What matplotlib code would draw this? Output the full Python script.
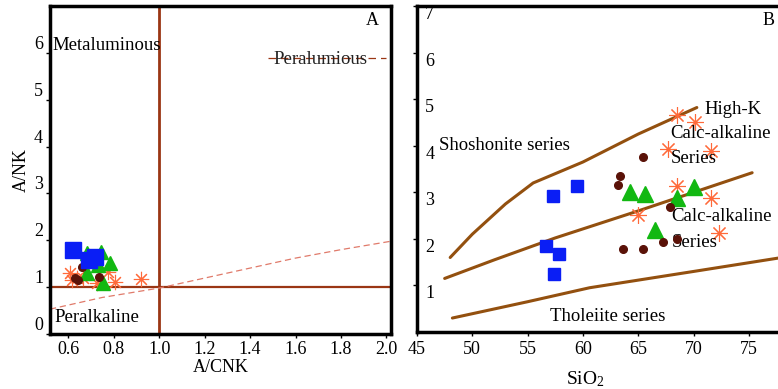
import matplotlib
matplotlib.use("Agg")
import matplotlib.pyplot as plt

plt.rcParams['font.family'] = ['Liberation Serif', 'DejaVu Serif']
plt.rcParams['mathtext.fontset'] = 'custom'
plt.rcParams['mathtext.rm'] = 'Liberation Serif'

# ---------------- Panel A data (A/CNK vs A/NK) ----------------
a_blue_x = [0.62, 0.69, 0.72]
a_blue_y = [1.79, 1.57, 1.64]
a_green_x = [0.683, 0.745, 0.784, 0.683, 0.753, 0.73]
a_green_y = [1.72, 1.74, 1.51, 1.30, 1.09, 1.47]
a_brown_x = [0.66, 0.736, 0.63, 0.643]
a_brown_y = [1.43, 1.21, 1.19, 1.15]
a_orange_x = [0.608, 0.617, 0.64, 0.776, 0.806, 0.92, 0.727, 0.665]
a_orange_y = [1.30, 1.15, 1.19, 1.32, 1.10, 1.17, 1.09, 1.19]
a_curve_x = [0.52, 0.75, 1.0, 1.3, 1.6, 1.8, 2.02]
a_curve_y = [0.53, 0.78, 0.98, 1.30, 1.62, 1.80, 1.98]
a_xticks = [0.6, 0.8, 1.0, 1.2, 1.4, 1.6, 1.8, 2.0]
a_yticks = [0, 1, 2, 3, 4, 5, 6]

# ---------------- Panel B data (SiO2 vs K2O) ----------------
b_blue_x = [57.3, 59.5, 56.7, 57.8, 57.4]
b_blue_y = [2.92, 3.13, 1.84, 1.67, 1.25]
b_brown_x = [65.4, 63.35, 63.2, 67.9, 63.6, 65.4, 67.2, 68.5]
b_brown_y = [3.76, 3.35, 3.15, 2.69, 1.78, 1.78, 1.94, 2.00]
b_green_x = [64.3, 65.6, 68.5, 70.0, 66.5]
b_green_y = [3.00, 2.97, 2.88, 3.12, 2.19]
b_orange_x = [68.5, 70.1, 67.7, 71.6, 68.5, 71.6, 65.0, 72.3]
b_orange_y = [4.67, 4.50, 3.94, 3.88, 3.13, 2.88, 2.52, 2.13]
b_high_x = [48.0, 50.0, 53.0, 55.5, 60.0, 65.0, 70.3]
b_high_y = [1.60, 2.10, 2.75, 3.20, 3.65, 4.25, 4.82]
b_mid_x = [47.5, 52.0, 57.5, 65.0, 75.3]
b_mid_y = [1.15, 1.55, 2.02, 2.60, 3.42]
b_low_x = [48.2, 55.0, 60.6, 70.0, 78.0]
b_low_y = [0.30, 0.65, 0.95, 1.30, 1.60]
b_xticks = [45, 50, 55, 60, 65, 70, 75]
b_yticks = [1, 2, 3, 4, 5, 6, 7]

BLUE = '#0a1ef5'
GREEN = '#12b812'
BROWN = '#5a1208'
ORANGE = '#ff6a3a'
LINE_A = '#9a3614'
LINE_B = '#93500f'
FS = 13.5

fig = plt.figure(figsize=(7.78, 3.89), dpi=100)

# ---------------- Panel A ----------------
axA = fig.add_axes([50/778, 1-334/389, (391-50)/778, (334-6)/389])
axA.set_xlim(0.52, 2.02)
axA.set_ylim(0, 7)
axA.axvline(1.0, color=LINE_A, lw=2.0, zorder=1)
axA.axhline(1.0, color=LINE_A, lw=1.6, zorder=1)
axA.plot(a_curve_x, a_curve_y, color='#e07a6a', lw=0.9, ls=(0, (5, 3)), zorder=1)
axA.plot(a_orange_x, a_orange_y, ls='none', marker=(8, 2, 0), ms=11,
         mec=ORANGE, mew=0.8, zorder=3)
axA.plot(a_green_x, a_green_y, ls='none', marker='^', ms=10.5, color=GREEN, zorder=4)
axA.plot(a_brown_x, a_brown_y, ls='none', marker='o', ms=5.5, color=BROWN, zorder=5)
axA.plot(a_blue_x, a_blue_y, ls='none', marker='s', ms=11, color=BLUE, zorder=6)
axA.set_xticks(a_xticks)
axA.set_xticklabels(['0.6', '0.8', '1.0', '1.2', '1.4', '1.6', '1.8', '2.0'])
axA.set_yticks(a_yticks)
axA.tick_params(labelsize=13, length=3, width=1, direction='out', pad=2)
for lbl in axA.yaxis.get_majorticklabels():
    lbl.set_verticalalignment('bottom')
for s in axA.spines.values():
    s.set_linewidth(2.5)
axA.set_xlabel('A/CNK', fontsize=13, labelpad=1)
axA.set_ylabel('A/NK', fontsize=13, labelpad=3)
axA.text(0.008, 0.88, 'Metaluminous', transform=axA.transAxes, fontsize=FS, va='center')
axA.text(0.655, 0.837, 'Peralumious', transform=axA.transAxes, fontsize=FS, va='center',
         color='#222222')
axA.plot([0.64, 0.985], [0.84, 0.84], transform=axA.transAxes, color=LINE_A,
         lw=0.9, ls=(0, (6, 4)), zorder=2)
axA.text(0.012, 0.05, 'Peralkaline', transform=axA.transAxes, fontsize=FS, va='center')
axA.text(0.945, 0.955, 'A', transform=axA.transAxes, fontsize=13, va='center', ha='center')

# ---------------- Panel B ----------------
axB = fig.add_axes([417/778, 1-332/389, (782-417)/778, (332-6)/389])
axB.set_xlim(45, 78)
axB.set_ylim(0, 7)
for xs, ys in [(b_high_x, b_high_y), (b_mid_x, b_mid_y), (b_low_x, b_low_y)]:
    axB.plot(xs, ys, color=LINE_B, lw=2.2, zorder=1, solid_capstyle='round',
             solid_joinstyle='round')
axB.plot(b_orange_x, b_orange_y, ls='none', marker=(8, 2, 0), ms=12,
         mec=ORANGE, mew=0.8, zorder=3)
axB.plot(b_green_x, b_green_y, ls='none', marker='^', ms=11, color=GREEN, zorder=4)
axB.plot(b_brown_x, b_brown_y, ls='none', marker='o', ms=5.5, color=BROWN, zorder=5)
axB.plot(b_blue_x, b_blue_y, ls='none', marker='s', ms=8.5, color=BLUE, zorder=6)
axB.set_xticks(b_xticks)
axB.set_yticks(b_yticks)
axB.tick_params(labelsize=13, length=3, width=1, direction='out')
axB.tick_params(axis='y', pad=-9)
for lbl in axB.yaxis.get_majorticklabels():
    lbl.set_horizontalalignment('left')
    lbl.set_verticalalignment('top')
for s in axB.spines.values():
    s.set_linewidth(2.5)
axB.set_xlabel(r'$\mathrm{SiO_2}$', fontsize=14)
axB.xaxis.set_label_coords((585-417)/(782-417), -0.115)
axB.text(47.0, 4.0, 'Shoshonite series', fontsize=FS, va='center')
axB.text(71.0, 4.77, 'High-K', fontsize=FS, va='center')
axB.text(67.9, 4.27, 'Calc-alkaline', fontsize=FS, va='center')
axB.text(67.9, 3.72, 'Series', fontsize=FS, va='center')
axB.text(68.0, 2.48, 'Calc-alkaline', fontsize=FS, va='center')
axB.text(68.0, 1.92, 'Series', fontsize=FS, va='center')
axB.text(57.0, 0.33, 'Tholeiite series', fontsize=FS, va='center')
axB.text(0.963, 0.955, 'B', transform=axB.transAxes, fontsize=13, va='center', ha='center')

fig.savefig('out.png', dpi=100)
